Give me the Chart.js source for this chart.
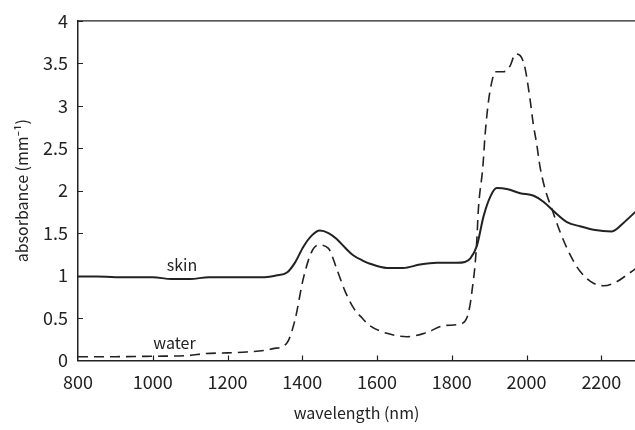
<!DOCTYPE html>
<html lang="en">
<head>
    <meta charset="UTF-8">
    <title>Absorbance of skin and water</title>
    <style>
        body {
            margin: 0;
            padding: 0;
            background: #ffffff;
        }
        .chart-box {
            width: 635px;
            height: 430px;
        }
    </style>
</head>
<body>
    <div class="chart-box">
        <canvas id="absChart" width="635" height="430"></canvas>
    </div>
    <script src="https://cdn.jsdelivr.net/npm/chart.js"></script>
    <script>
        // wavelength (nm) and absorbance (mm^-1)
        const skinNm = [800, 850, 900, 950, 1000, 1050, 1100, 1150, 1200, 1250, 1300, 1330, 1360, 1380, 1403, 1425, 1447, 1470, 1492, 1514, 1536, 1560, 1581, 1626, 1670, 1715, 1760, 1813, 1835, 1849, 1867, 1885, 1903, 1920, 1947, 1983, 2019, 2045, 2072, 2108, 2143, 2179, 2228, 2259, 2291];
        const skinAbs = [0.99, 0.99, 0.98, 0.98, 0.98, 0.96, 0.96, 0.98, 0.98, 0.98, 0.98, 1.00, 1.04, 1.15, 1.34, 1.47, 1.53, 1.50, 1.43, 1.33, 1.24, 1.18, 1.14, 1.09, 1.09, 1.13, 1.15, 1.15, 1.16, 1.20, 1.35, 1.70, 1.93, 2.03, 2.02, 1.97, 1.94, 1.87, 1.76, 1.63, 1.58, 1.54, 1.52, 1.62, 1.75];

        const waterNm = [800, 900, 1000, 1100, 1135, 1200, 1250, 1300, 1322, 1358, 1380, 1403, 1425, 1443, 1470, 1492, 1514, 1537, 1560, 1581, 1626, 1680, 1733, 1778, 1822, 1840, 1849, 1854, 1862, 1867, 1871, 1883, 1889, 1898, 1907, 1916, 1938, 1956, 1970, 1983, 1996, 2010, 2018, 2027, 2036, 2050, 2068, 2090, 2117, 2143, 2179, 2206, 2242, 2269, 2291];
        const waterAbs = [0.045, 0.045, 0.05, 0.06, 0.08, 0.09, 0.10, 0.12, 0.14, 0.20, 0.47, 0.97, 1.28, 1.36, 1.32, 1.08, 0.82, 0.62, 0.50, 0.41, 0.32, 0.28, 0.33, 0.41, 0.43, 0.50, 0.66, 0.82, 1.12, 1.43, 1.78, 2.28, 2.66, 3.05, 3.28, 3.40, 3.40, 3.47, 3.61, 3.59, 3.44, 3.05, 2.78, 2.55, 2.28, 2.01, 1.78, 1.51, 1.24, 1.05, 0.91, 0.88, 0.93, 1.01, 1.08];

        const xTicks = [800, 1000, 1200, 1400, 1600, 1800, 2000, 2200];
        const yTicks = [0, 0.5, 1, 1.5, 2, 2.5, 3, 3.5, 4];

        // curve labels, placed in data coordinates
        const curveLabels = [
            { text: 'skin', nm: 1078, abs: 1.13 },
            { text: 'water', nm: 1058, abs: 0.21 }
        ];

        const ink = '#222222';
        const fontFamily = "'Noto Sans CJK JP', 'Noto Sans', sans-serif";

        const toPoints = (xs, ys) => xs.map((x, i) => ({ x: x, y: ys[i] }));

        // small inward ticks, top frame line and curve labels
        const decorations = {
            id: 'decorations',
            afterDraw(chart) {
                const ctx = chart.ctx;
                const area = chart.chartArea;
                const xs = chart.scales.x;
                const ys = chart.scales.y;
                ctx.save();
                ctx.strokeStyle = ink;
                ctx.lineWidth = 1.2;
                ctx.beginPath();
                xTicks.slice(1).forEach(v => {
                    const px = Math.round(xs.getPixelForValue(v)) + 0.5;
                    ctx.moveTo(px, area.bottom);
                    ctx.lineTo(px, area.bottom - 5);
                });
                yTicks.slice(1).forEach(v => {
                    const py = Math.round(ys.getPixelForValue(v)) + 0.5;
                    ctx.moveTo(area.left, py);
                    ctx.lineTo(area.left + 5, py);
                });
                ctx.moveTo(area.left, area.top);
                ctx.lineTo(area.right, area.top);
                ctx.stroke();

                ctx.fillStyle = ink;
                ctx.font = '16px ' + fontFamily;
                ctx.textAlign = 'center';
                ctx.textBaseline = 'middle';
                curveLabels.forEach(l => {
                    ctx.fillText(l.text, xs.getPixelForValue(l.nm), ys.getPixelForValue(l.abs));
                });
                ctx.restore();
            }
        };

        document.addEventListener('DOMContentLoaded', () => {
            const ctx = document.getElementById('absChart').getContext('2d');

            new Chart(ctx, {
                type: 'line',
                data: {
                    datasets: [{
                        label: 'skin',
                        data: toPoints(skinNm, skinAbs),
                        borderColor: ink,
                        borderWidth: 2,
                        pointRadius: 0,
                        cubicInterpolationMode: 'monotone',
                        fill: false
                    }, {
                        label: 'water',
                        data: toPoints(waterNm, waterAbs),
                        borderColor: ink,
                        borderWidth: 1.6,
                        borderDash: [10, 6],
                        pointRadius: 0,
                        cubicInterpolationMode: 'monotone',
                        fill: false
                    }]
                },
                options: {
                    responsive: false,
                    animation: false,
                    layout: {
                        padding: { top: 14, right: 0, bottom: 0, left: 0 }
                    },
                    plugins: {
                        legend: { display: false },
                        tooltip: { enabled: false }
                    },
                    scales: {
                        x: {
                            type: 'linear',
                            min: 800,
                            max: 2290,
                            afterBuildTicks: scale => {
                                scale.ticks = xTicks.map(v => ({ value: v }));
                            },
                            afterFit: scale => { scale.height = 69.5; },
                            grid: { drawOnChartArea: false, drawTicks: false },
                            border: { display: true, color: ink, width: 1.5 },
                            ticks: {
                                padding: 11,
                                color: ink,
                                maxRotation: 0,
                                callback: v => String(v),
                                font: { family: fontFamily, size: 18 }
                            },
                            title: {
                                display: true,
                                text: 'wavelength (nm)',
                                color: ink,
                                padding: { top: 0, bottom: 7 },
                                font: { family: fontFamily, size: 16 }
                            }
                        },
                        y: {
                            min: 0,
                            max: 4,
                            afterBuildTicks: scale => {
                                scale.ticks = yTicks.map(v => ({ value: v }));
                            },
                            afterFit: scale => { scale.width = 78; },
                            grid: { drawOnChartArea: false, drawTicks: false },
                            border: { display: true, color: ink, width: 1.5 },
                            ticks: {
                                padding: 10,
                                color: ink,
                                callback: v => String(v),
                                font: { family: fontFamily, size: 18 }
                            },
                            title: {
                                display: true,
                                text: 'absorbance (mm\u207B\u00B9)',
                                color: ink,
                                padding: { top: 12, bottom: 0 },
                                font: { family: fontFamily, size: 16 }
                            }
                        }
                    }
                },
                plugins: [decorations]
            });
        });
    </script>
</body>
</html>
